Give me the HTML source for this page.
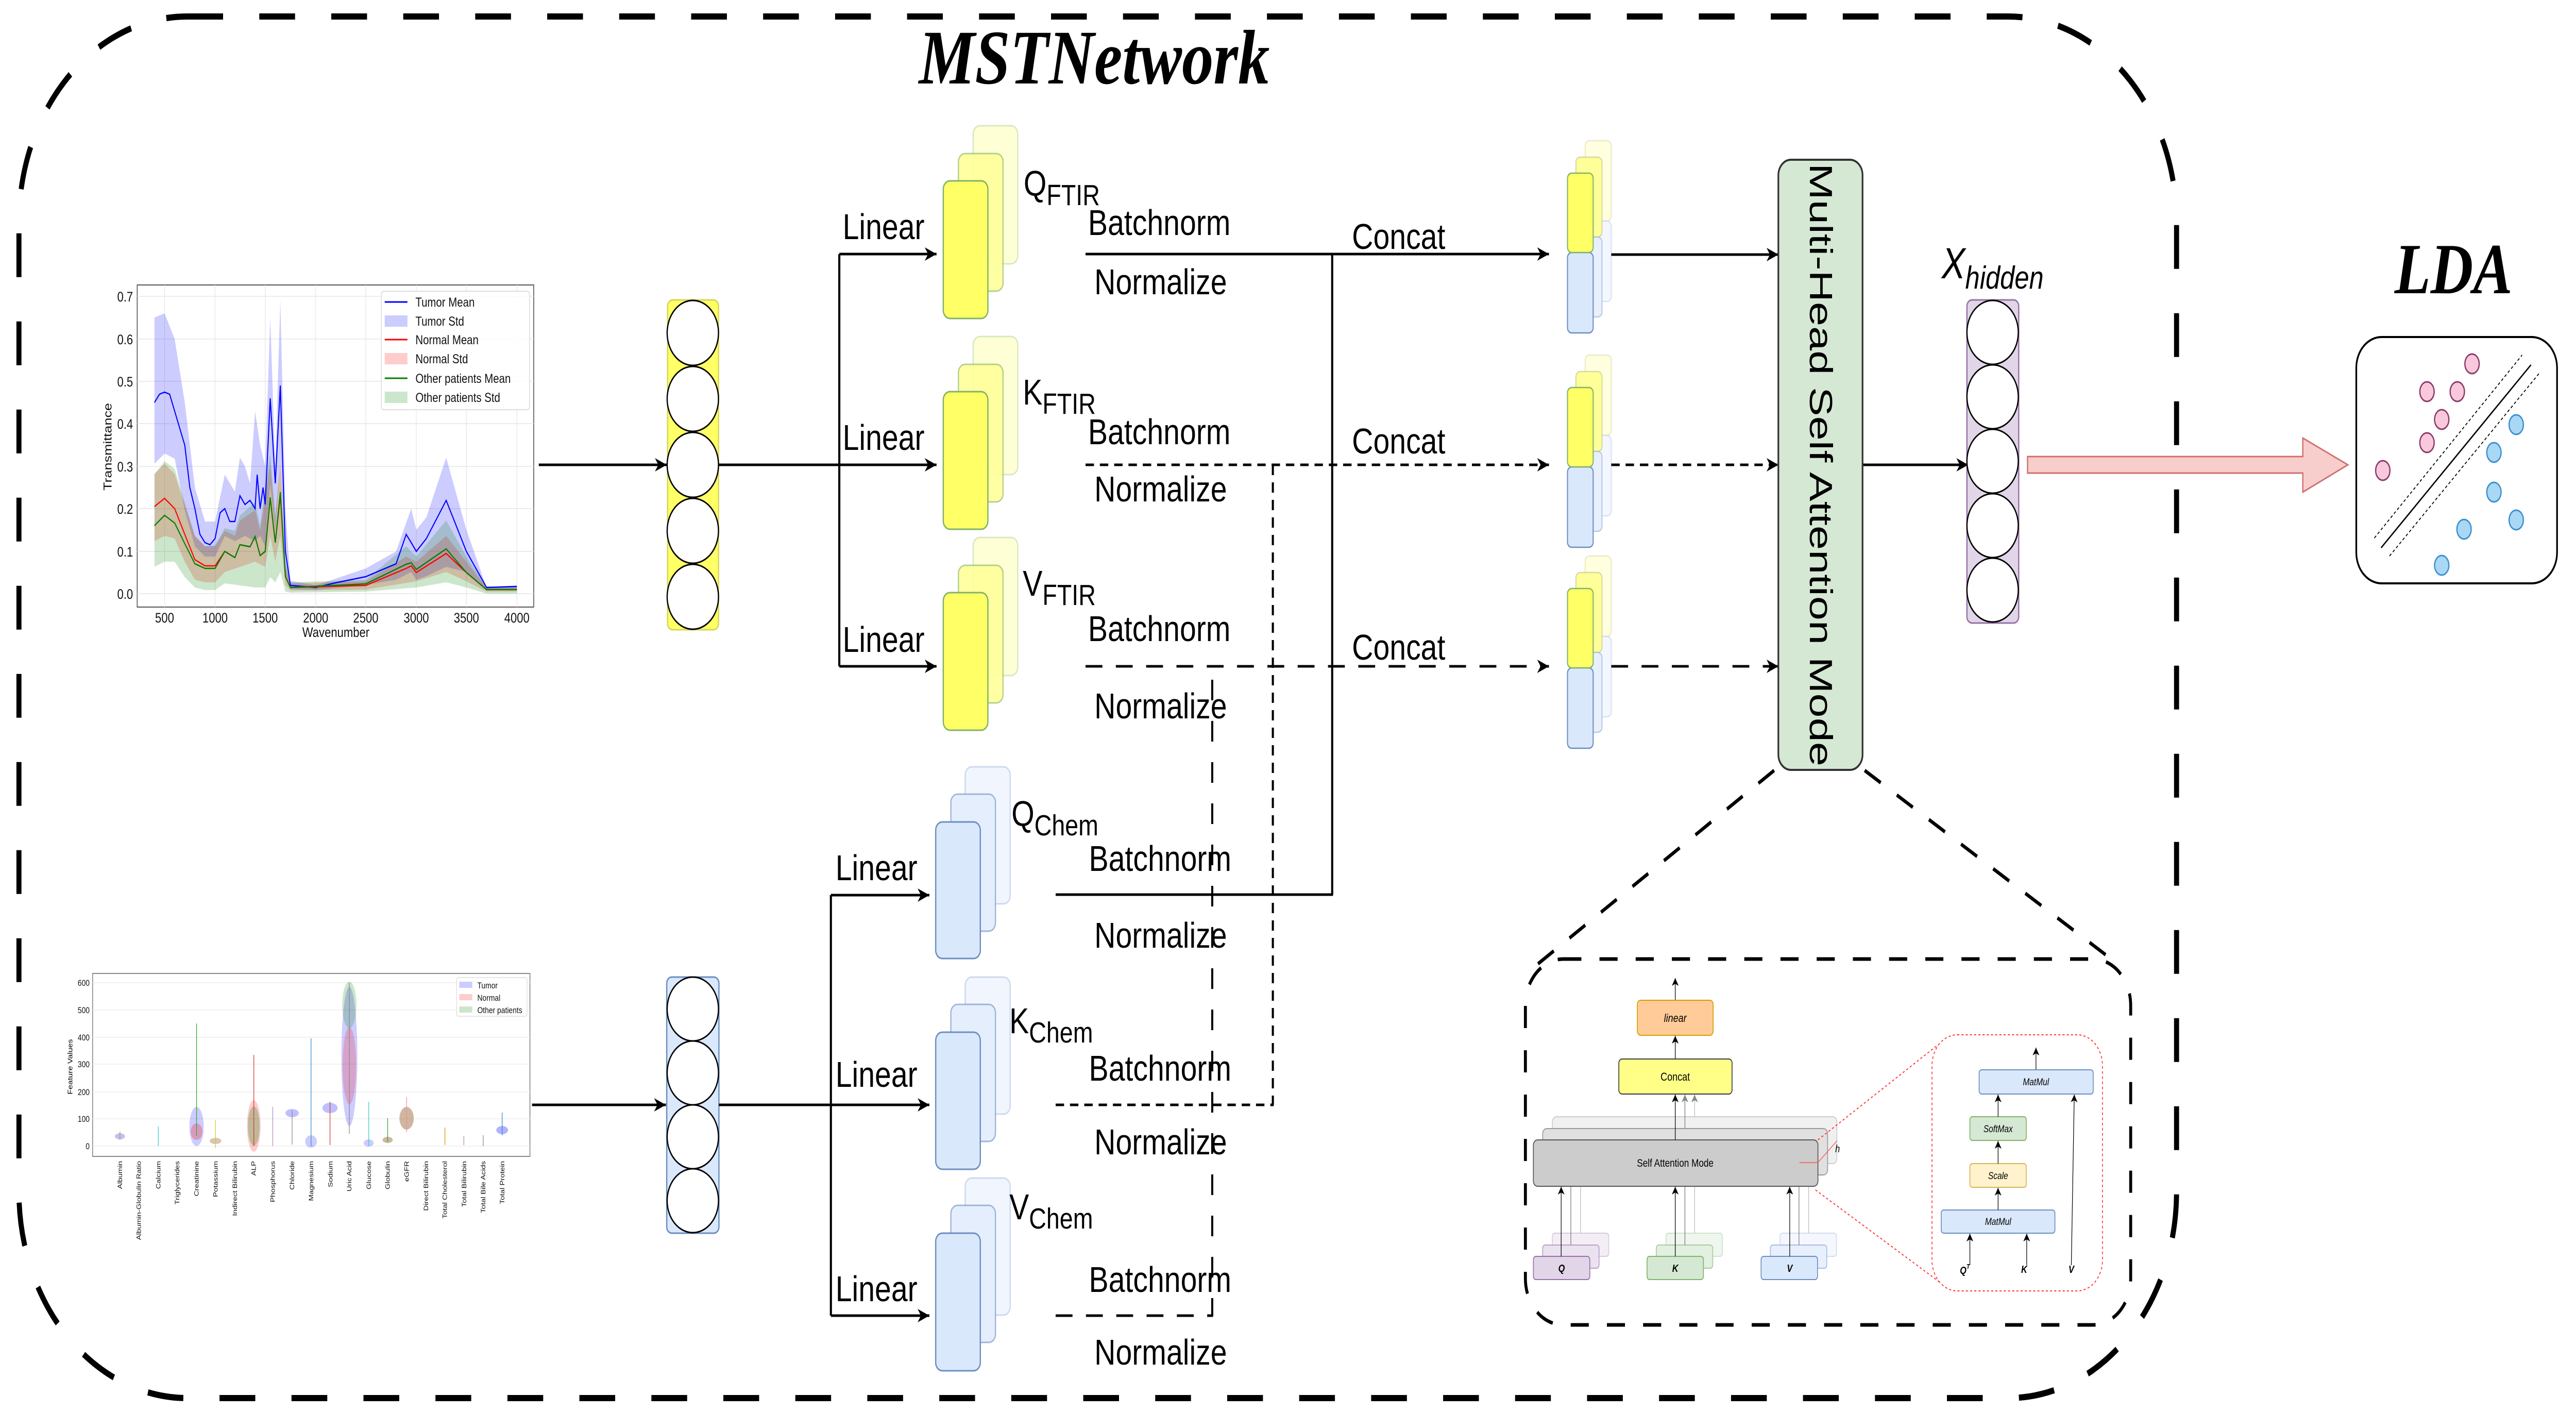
<!DOCTYPE html>
<html><head><meta charset="utf-8"><style>
html,body{margin:0;padding:0;background:#fff;overflow:hidden;width:100vw;height:100vh;}
svg{display:block;width:100vw;height:100vh;}
text{font-family:"Liberation Sans",sans-serif;}
</style></head><body>
<svg viewBox="0 0 6120 2740" preserveAspectRatio="none" xmlns="http://www.w3.org/2000/svg">
<defs>
<marker id="ar" markerUnits="userSpaceOnUse" markerWidth="30" markerHeight="26" refX="28" refY="13" orient="auto"><path d="M0,0 L28,13 L0,26 L8,13 Z" fill="#000"/></marker>
<marker id="as" markerUnits="userSpaceOnUse" markerWidth="16" markerHeight="16" refX="15" refY="8" orient="auto"><path d="M0,0 L15,8 L0,16 L4,8 Z" fill="#000"/></marker>
<marker id="ag" markerUnits="userSpaceOnUse" markerWidth="16" markerHeight="16" refX="15" refY="8" orient="auto"><path d="M0,0 L15,8 L0,16 L4,8 Z" fill="#888"/></marker>
</defs>
<rect width="6120" height="2740" fill="#fff"/>
<rect x="45" y="32" width="5126" height="2681" rx="400" ry="400" fill="none" stroke="#000" stroke-width="12" stroke-dasharray="85,86"/>
<text x="2183" y="162" font-weight="bold" font-style="italic" font-size="150" style="font-family:'Liberation Serif',serif">MSTNetwork</text>

<g>
<rect x="326" y="553" width="942" height="625" fill="#fff" stroke="#555" stroke-width="2"/>
<g stroke="#e6e6e6" stroke-width="1.5">
<line x1="326" y1="1152" x2="1268" y2="1152"/><line x1="326" y1="1070" x2="1268" y2="1070"/><line x1="326" y1="987" x2="1268" y2="987"/><line x1="326" y1="905" x2="1268" y2="905"/><line x1="326" y1="822" x2="1268" y2="822"/><line x1="326" y1="740" x2="1268" y2="740"/><line x1="326" y1="658" x2="1268" y2="658"/><line x1="326" y1="575" x2="1268" y2="575"/>
<line x1="391" y1="553" x2="391" y2="1178"/><line x1="511" y1="553" x2="511" y2="1178"/><line x1="630" y1="553" x2="630" y2="1178"/><line x1="750" y1="553" x2="750" y2="1178"/><line x1="869" y1="553" x2="869" y2="1178"/><line x1="989" y1="553" x2="989" y2="1178"/><line x1="1108" y1="553" x2="1108" y2="1178"/><line x1="1228" y1="553" x2="1228" y2="1178"/>
</g>
<polygon fill="#0000ff" fill-opacity="0.2" points="367,616 391,608 415,658 439,781 463,946 487,1012 511,1012 534,921 558,954 570,888 582,905 594,938 606,798 618,864 630,905 642,616 654,905 666,583 678,987 690,1127 750,1136 869,1103 941,1070 977,987 989,1028 1013,1004 1060,888 1108,1028 1156,1140 1228,1136 1228,1145 1156,1146 1108,1110 1060,1100 1013,1118 989,1125 977,1110 941,1125 869,1135 750,1145 690,1143 678,1120 666,890 654,1030 642,940 630,1060 618,1040 606,1050 582,1040 558,1050 534,1040 511,1080 487,1080 463,1060 439,990 415,890 391,880 367,900"/>
<polygon fill="#ff0000" fill-opacity="0.2" points="367,920 391,900 415,920 439,980 463,1040 487,1060 511,1060 534,1030 558,1040 570,1010 606,990 618,1030 642,900 654,1010 666,890 678,1100 690,1132 869,1128 965,1080 989,1090 1060,1040 1108,1090 1156,1140 1228,1140 1228,1148 1156,1148 1108,1128 1060,1110 989,1128 869,1144 690,1146 678,1135 666,1040 654,1090 642,1040 630,1100 606,1090 534,1110 511,1130 487,1130 463,1125 439,1090 415,1045 391,1040 367,1050"/>
<polygon fill="#008000" fill-opacity="0.2" points="367,920 391,895 415,910 439,975 463,1040 487,1060 511,1058 534,1025 558,1030 570,1000 606,975 618,1020 642,880 654,1000 666,900 678,1090 690,1130 869,1125 965,1060 989,1080 1060,1010 1108,1080 1156,1138 1228,1138 1228,1152 1156,1152 1108,1140 1060,1130 989,1140 869,1148 690,1150 678,1148 666,1110 654,1130 642,1120 630,1140 606,1140 534,1132 511,1145 487,1145 463,1140 439,1120 415,1090 391,1090 367,1100"/>
<polyline fill="none" stroke="#0000ff" stroke-width="2.5" points="367,781 379,765 391,761 403,765 415,798 439,864 451,946 463,987 475,1037 487,1053 499,1057 511,1045 523,995 534,987 546,1012 558,1012 570,962 582,979 594,971 606,987 611,921 618,987 625,946 630,979 642,773 654,938 666,748 678,1070 690,1136 750,1140 797,1131 869,1119 941,1094 965,1037 977,1053 989,1070 1013,1045 1060,971 1108,1070 1156,1140 1228,1138"/>
<polyline fill="none" stroke="#ff0000" stroke-width="2.5" points="367,983 391,967 415,987 439,1037 463,1086 487,1098 511,1098 534,1070 558,1082 570,1057 594,1061 606,1041 618,1078 630,1070 642,967 654,1053 666,962 678,1119 690,1140 869,1136 965,1103 977,1098 989,1111 1060,1074 1108,1111 1156,1144 1228,1144"/>
<polyline fill="none" stroke="#008000" stroke-width="2.5" points="367,1020 391,1000 415,1015 439,1055 463,1094 487,1103 511,1103 534,1070 558,1082 570,1057 594,1061 606,1041 618,1078 630,1070 642,965 654,1053 666,955 678,1119 690,1140 869,1133 965,1095 977,1092 989,1105 1060,1065 1108,1111 1156,1144 1228,1144"/>
<g font-size="27" fill="#111" text-anchor="end">
<text x="316" y="1162">0.0</text><text x="316" y="1080">0.1</text><text x="316" y="997">0.2</text><text x="316" y="915">0.3</text><text x="316" y="832">0.4</text><text x="316" y="750">0.5</text><text x="316" y="668">0.6</text><text x="316" y="585">0.7</text>
</g>
<g font-size="27" fill="#111" text-anchor="middle">
<text x="391" y="1208">500</text><text x="511" y="1208">1000</text><text x="630" y="1208">1500</text><text x="750" y="1208">2000</text><text x="869" y="1208">2500</text><text x="989" y="1208">3000</text><text x="1108" y="1208">3500</text><text x="1228" y="1208">4000</text>
<text x="798" y="1236">Wavenumber</text>
<text transform="translate(265,867) rotate(-90)">Transmittance</text>
</g>
<rect x="906" y="565" width="352" height="230" rx="6" fill="#fff" fill-opacity="0.85" stroke="#ddd" stroke-width="2"/>
<g font-size="25" fill="#111">
<line x1="914" y1="586" x2="968" y2="586" stroke="#0000ff" stroke-width="3"/><text x="987" y="595">Tumor Mean</text>
<rect x="914" y="612" width="54" height="22" fill="#0000ff" fill-opacity="0.2"/><text x="987" y="632">Tumor Std</text>
<line x1="914" y1="659" x2="968" y2="659" stroke="#ff0000" stroke-width="3"/><text x="987" y="668">Normal Mean</text>
<rect x="914" y="685" width="54" height="22" fill="#ff0000" fill-opacity="0.2"/><text x="987" y="705">Normal Std</text>
<line x1="914" y1="734" x2="968" y2="734" stroke="#008000" stroke-width="3"/><text x="987" y="743">Other patients Mean</text>
<rect x="914" y="760" width="54" height="22" fill="#008000" fill-opacity="0.2"/><text x="987" y="780">Other patients Std</text>
</g>
</g>

<g>
<rect x="220" y="1889" width="1039" height="355" fill="#fff" stroke="#888" stroke-width="2"/>
<g stroke="#eee" stroke-width="1.5"><line x1="220" y1="1907" x2="1259" y2="1907"/><line x1="220" y1="1960" x2="1259" y2="1960"/><line x1="220" y1="2013" x2="1259" y2="2013"/><line x1="220" y1="2065" x2="1259" y2="2065"/><line x1="220" y1="2119" x2="1259" y2="2119"/><line x1="220" y1="2171" x2="1259" y2="2171"/><line x1="220" y1="2224" x2="1259" y2="2224"/></g>
<g font-size="17" fill="#111" text-anchor="end">
<text x="213" y="1913">600</text><text x="213" y="1966">500</text><text x="213" y="2019">400</text><text x="213" y="2071">300</text><text x="213" y="2125">200</text><text x="213" y="2177">100</text><text x="213" y="2230">0</text>
</g>
<text transform="translate(172,2070) rotate(-90)" font-size="16" text-anchor="middle">Feature Values</text>
<ellipse cx="830" cy="2050" rx="19" ry="135" fill="#0000ff" fill-opacity="0.2"/>
<ellipse cx="830" cy="2068" rx="16" ry="75" fill="#ff0000" fill-opacity="0.2"/>
<ellipse cx="830" cy="1950" rx="17" ry="45" fill="#008000" fill-opacity="0.2"/>
<line x1="830" y1="1907" x2="830" y2="2200" stroke="#888" stroke-width="1.5"/>
<ellipse cx="467" cy="2186" rx="17" ry="38" fill="#0000ff" fill-opacity="0.2"/><ellipse cx="467" cy="2196" rx="14" ry="16" fill="#ff0000" fill-opacity="0.25"/>
<line x1="467" y1="1986" x2="467" y2="2204" stroke="#2a2" stroke-width="1.5"/>
<ellipse cx="603" cy="2185" rx="16" ry="50" fill="#ff0000" fill-opacity="0.2"/><ellipse cx="603" cy="2185" rx="14" ry="38" fill="#008000" fill-opacity="0.25"/>
<line x1="603" y1="2047" x2="603" y2="2224" stroke="#d33" stroke-width="1.5"/>
<ellipse cx="966" cy="2170" rx="17" ry="22" fill="#a07040" fill-opacity="0.5"/><line x1="966" y1="2129" x2="966" y2="2197" stroke="#e8a" stroke-width="1.5"/>
<ellipse cx="784" cy="2150" rx="18" ry="10" fill="#0000ff" fill-opacity="0.25"/><line x1="784" y1="2138" x2="784" y2="2222" stroke="#d33" stroke-width="1.5"/>
<ellipse cx="694" cy="2160" rx="16" ry="8" fill="#0000ff" fill-opacity="0.25"/><line x1="694" y1="2155" x2="694" y2="2221" stroke="#888" stroke-width="1.5"/>
<ellipse cx="285" cy="2205" rx="12" ry="6" fill="#0000ff" fill-opacity="0.25"/>
<ellipse cx="1193" cy="2193" rx="14" ry="8" fill="#0000ff" fill-opacity="0.3"/><line x1="1193" y1="2159" x2="1193" y2="2203" stroke="#38c" stroke-width="1.5"/>
<ellipse cx="739" cy="2215" rx="14" ry="12" fill="#0000ff" fill-opacity="0.2"/><line x1="739" y1="2015" x2="739" y2="2224" stroke="#38c" stroke-width="1.5"/>
<ellipse cx="876" cy="2218" rx="12" ry="7" fill="#0000ff" fill-opacity="0.2"/><line x1="876" y1="2138" x2="876" y2="2224" stroke="#3cc" stroke-width="1.5"/>
<ellipse cx="921" cy="2212" rx="12" ry="6" fill="#a07040" fill-opacity="0.5"/><line x1="921" y1="2170" x2="921" y2="2216" stroke="#2a2" stroke-width="1.5"/>
<ellipse cx="512" cy="2214" rx="14" ry="6" fill="#a07040" fill-opacity="0.4"/><line x1="512" y1="2173" x2="512" y2="2228" stroke="#cc3" stroke-width="1.5"/>
<line x1="376" y1="2186" x2="376" y2="2224" stroke="#3cc" stroke-width="1.5"/><line x1="648" y1="2148" x2="648" y2="2224" stroke="#b8b" stroke-width="1.5"/>
<line x1="285" y1="2196" x2="285" y2="2212" stroke="#e80" stroke-width="1.5"/><line x1="1102" y1="2204" x2="1102" y2="2222" stroke="#b8b" stroke-width="1.5"/><line x1="1057" y1="2188" x2="1057" y2="2222" stroke="#e80" stroke-width="1.5"/><line x1="1148" y1="2203" x2="1148" y2="2224" stroke="#888" stroke-width="1.5"/>
<g font-size="15" fill="#111" text-anchor="end">
<text transform="translate(290,2253) rotate(-90)">Albumin</text>
<text transform="translate(335,2253) rotate(-90)">Albumin-Globulin Ratio</text>
<text transform="translate(381,2253) rotate(-90)">Calcium</text>
<text transform="translate(426,2253) rotate(-90)">Triglycerides</text>
<text transform="translate(472,2253) rotate(-90)">Creatinine</text>
<text transform="translate(517,2253) rotate(-90)">Potassium</text>
<text transform="translate(563,2253) rotate(-90)">Indirect Bilirubin</text>
<text transform="translate(608,2253) rotate(-90)">ALP</text>
<text transform="translate(653,2253) rotate(-90)">Phosphorus</text>
<text transform="translate(699,2253) rotate(-90)">Chloride</text>
<text transform="translate(744,2253) rotate(-90)">Magnesium</text>
<text transform="translate(790,2253) rotate(-90)">Sodium</text>
<text transform="translate(835,2253) rotate(-90)">Uric Acid</text>
<text transform="translate(881,2253) rotate(-90)">Glucose</text>
<text transform="translate(926,2253) rotate(-90)">Globulin</text>
<text transform="translate(971,2253) rotate(-90)">eGFR</text>
<text transform="translate(1017,2253) rotate(-90)">Direct Bilirubin</text>
<text transform="translate(1062,2253) rotate(-90)">Total Cholesterol</text>
<text transform="translate(1108,2253) rotate(-90)">Total Bilirubin</text>
<text transform="translate(1153,2253) rotate(-90)">Total Bile Acids</text>
<text transform="translate(1198,2253) rotate(-90)">Total Protein</text>
</g>
<rect x="1085" y="1897" width="167" height="75" rx="4" fill="#fff" stroke="#ddd" stroke-width="1.5"/>
<g font-size="17" fill="#111">
<rect x="1091" y="1905" width="31" height="12" fill="#0000ff" fill-opacity="0.2"/><text x="1134" y="1918">Tumor</text>
<rect x="1091" y="1929" width="31" height="12" fill="#ff0000" fill-opacity="0.2"/><text x="1134" y="1942">Normal</text>
<rect x="1091" y="1953" width="31" height="12" fill="#008000" fill-opacity="0.2"/><text x="1134" y="1966">Other patients</text>
</g>
</g>

<line x1="1280" y1="902" x2="1584" y2="902" stroke="#000" stroke-width="5" marker-end="url(#ar)"/>
<line x1="1264" y1="2144" x2="1582" y2="2144" stroke="#000" stroke-width="5" marker-end="url(#ar)"/>

<rect x="1586" y="582" width="121" height="640" rx="12" fill="#ffff66" stroke="#d6d65a" stroke-width="3"/>
<g fill="#fff" stroke="#000" stroke-width="3">
<ellipse cx="1646" cy="646" rx="61" ry="63"/><ellipse cx="1646" cy="774" rx="61" ry="63"/><ellipse cx="1646" cy="902" rx="61" ry="63"/><ellipse cx="1646" cy="1030" rx="61" ry="63"/><ellipse cx="1646" cy="1158" rx="61" ry="63"/>
</g>
<rect x="1584" y="1896" width="124" height="497" rx="12" fill="#dae8fc" stroke="#6c8ebf" stroke-width="3"/>
<g fill="#fff" stroke="#000" stroke-width="3">
<ellipse cx="1646" cy="1958" rx="61" ry="62"/><ellipse cx="1646" cy="2082" rx="61" ry="62"/><ellipse cx="1646" cy="2206" rx="61" ry="62"/><ellipse cx="1646" cy="2330" rx="61" ry="62"/>
</g>

<g stroke="#000" stroke-width="5" fill="none">
<line x1="1707" y1="902" x2="1994" y2="902"/>
<line x1="1994" y1="493" x2="1994" y2="1293"/>
<line x1="1994" y1="493" x2="2225" y2="493" marker-end="url(#ar)"/>
<line x1="1994" y1="902" x2="2225" y2="902" marker-end="url(#ar)"/>
<line x1="1994" y1="1293" x2="2225" y2="1293" marker-end="url(#ar)"/>
<line x1="1708" y1="2144" x2="1974" y2="2144"/>
<line x1="1974" y1="1737" x2="1974" y2="2553"/>
<line x1="1974" y1="1737" x2="2208" y2="1737" marker-end="url(#ar)"/>
<line x1="1974" y1="2144" x2="2208" y2="2144" marker-end="url(#ar)"/>
<line x1="1974" y1="2553" x2="2208" y2="2553" marker-end="url(#ar)"/>
</g>
<g font-size="70" fill="#000">
<text x="2002" y="464">Linear</text><text x="2002" y="873">Linear</text><text x="2002" y="1265">Linear</text>
<text x="1985" y="1708">Linear</text><text x="1985" y="2109">Linear</text><text x="1985" y="2525">Linear</text>
</g>

<g stroke="#82b366" stroke-width="3">
<rect x="2312" y="244" width="106" height="268" rx="16" fill="#ffffcc" fill-opacity="0.8" stroke-opacity="0.3"/>
<rect x="2277" y="298" width="106" height="267" rx="16" fill="#ffff99" fill-opacity="0.9" stroke-opacity="0.6"/>
<rect x="2241" y="351" width="106" height="267" rx="16" fill="#ffff66"/>
<rect x="2312" y="653" width="106" height="268" rx="16" fill="#ffffcc" fill-opacity="0.8" stroke-opacity="0.3"/>
<rect x="2277" y="707" width="106" height="267" rx="16" fill="#ffff99" fill-opacity="0.9" stroke-opacity="0.6"/>
<rect x="2241" y="760" width="106" height="267" rx="16" fill="#ffff66"/>
<rect x="2312" y="1043" width="106" height="268" rx="16" fill="#ffffcc" fill-opacity="0.8" stroke-opacity="0.3"/>
<rect x="2277" y="1097" width="106" height="267" rx="16" fill="#ffff99" fill-opacity="0.9" stroke-opacity="0.6"/>
<rect x="2241" y="1150" width="106" height="267" rx="16" fill="#ffff66"/>
</g>
<g stroke="#6c8ebf" stroke-width="3">
<rect x="2293" y="1488" width="107" height="266" rx="16" fill="#f1f6fe" stroke-opacity="0.3"/>
<rect x="2259" y="1541" width="106" height="266" rx="16" fill="#e4eefd" stroke-opacity="0.6"/>
<rect x="2223" y="1595" width="106" height="265" rx="16" fill="#dae8fc"/>
<rect x="2293" y="1896" width="107" height="266" rx="16" fill="#f1f6fe" stroke-opacity="0.3"/>
<rect x="2259" y="1949" width="106" height="266" rx="16" fill="#e4eefd" stroke-opacity="0.6"/>
<rect x="2223" y="2003" width="106" height="266" rx="16" fill="#dae8fc"/>
<rect x="2293" y="2286" width="107" height="266" rx="16" fill="#f1f6fe" stroke-opacity="0.3"/>
<rect x="2259" y="2339" width="106" height="266" rx="16" fill="#e4eefd" stroke-opacity="0.6"/>
<rect x="2223" y="2393" width="106" height="267" rx="16" fill="#dae8fc"/>
</g>

<g fill="#000">
<text x="2432" y="380" font-size="70">Q<tspan font-size="57" dy="18">FTIR</tspan></text>
<text x="2430" y="785" font-size="70">K<tspan font-size="57" dy="18">FTIR</tspan></text>
<text x="2430" y="1156" font-size="70">V<tspan font-size="57" dy="18">FTIR</tspan></text>
<text x="2403" y="1603" font-size="70">Q<tspan font-size="57" dy="18">Chem</tspan></text>
<text x="2398" y="2005" font-size="70">K<tspan font-size="57" dy="18">Chem</tspan></text>
<text x="2398" y="2366" font-size="70">V<tspan font-size="57" dy="18">Chem</tspan></text>
</g>
<g font-size="70" fill="#000">
<text x="2585" y="456">Batchnorm</text><text x="2600" y="571">Normalize</text>
<text x="2585" y="862">Batchnorm</text><text x="2600" y="973">Normalize</text>
<text x="2585" y="1244">Batchnorm</text><text x="2600" y="1394">Normalize</text>
<text x="2587" y="1690">Batchnorm</text><text x="2600" y="1839">Normalize</text>
<text x="2587" y="2097">Batchnorm</text><text x="2600" y="2240">Normalize</text>
<text x="2587" y="2507">Batchnorm</text><text x="2600" y="2648">Normalize</text>
<text x="3212" y="483">Concat</text><text x="3212" y="880">Concat</text><text x="3212" y="1280">Concat</text>
</g>

<g stroke="#000" stroke-width="5" fill="none">
<line x1="2579" y1="493" x2="3680" y2="493" marker-end="url(#ar)"/>
<line x1="2579" y1="902" x2="3680" y2="902" stroke-dasharray="20,14" marker-end="url(#ar)"/>
<line x1="2579" y1="1293" x2="3680" y2="1293" stroke-dasharray="40,32" marker-end="url(#ar)"/>
<line x1="3165" y1="493" x2="3165" y2="1736"/>
<line x1="2508" y1="1736" x2="3167" y2="1736"/>
<line x1="3024" y1="902" x2="3024" y2="2144" stroke-dasharray="20,14"/>
<line x1="2508" y1="2144" x2="3026" y2="2144" stroke-dasharray="20,14"/>
<line x1="2880" y1="1319" x2="2880" y2="2553" stroke-dasharray="40,40"/>
<line x1="2508" y1="2553" x2="2882" y2="2553" stroke-dasharray="40,32"/>
</g>

<g stroke-width="2.5">
<g>
<rect x="3766" y="273" width="62" height="156" rx="10" fill="#ffffcc" fill-opacity="0.6" stroke="#d6d6a0" stroke-opacity="0.5"/>
<rect x="3766" y="429" width="62" height="156" rx="10" fill="#f4f8fe" stroke="#b8c8e8" stroke-opacity="0.5"/>
<rect x="3744" y="305" width="62" height="155" rx="10" fill="#ffff99" stroke="#c8c890" stroke-opacity="0.7"/>
<rect x="3744" y="460" width="62" height="155" rx="10" fill="#e8f0fd" stroke="#9fb5dd" stroke-opacity="0.7"/>
<rect x="3724" y="490" width="61" height="156" rx="10" fill="#dae8fc" stroke="#6c8ebf"/>
<rect x="3724" y="336" width="61" height="154" rx="10" fill="#ffff66" stroke="#82b366"/>
</g>
<g transform="translate(0,416)">
<rect x="3766" y="273" width="62" height="156" rx="10" fill="#ffffcc" fill-opacity="0.6" stroke="#d6d6a0" stroke-opacity="0.5"/>
<rect x="3766" y="429" width="62" height="156" rx="10" fill="#f4f8fe" stroke="#b8c8e8" stroke-opacity="0.5"/>
<rect x="3744" y="305" width="62" height="155" rx="10" fill="#ffff99" stroke="#c8c890" stroke-opacity="0.7"/>
<rect x="3744" y="460" width="62" height="155" rx="10" fill="#e8f0fd" stroke="#9fb5dd" stroke-opacity="0.7"/>
<rect x="3724" y="490" width="61" height="156" rx="10" fill="#dae8fc" stroke="#6c8ebf"/>
<rect x="3724" y="336" width="61" height="154" rx="10" fill="#ffff66" stroke="#82b366"/>
</g>
<g transform="translate(0,806)">
<rect x="3766" y="273" width="62" height="156" rx="10" fill="#ffffcc" fill-opacity="0.6" stroke="#d6d6a0" stroke-opacity="0.5"/>
<rect x="3766" y="429" width="62" height="156" rx="10" fill="#f4f8fe" stroke="#b8c8e8" stroke-opacity="0.5"/>
<rect x="3744" y="305" width="62" height="155" rx="10" fill="#ffff99" stroke="#c8c890" stroke-opacity="0.7"/>
<rect x="3744" y="460" width="62" height="155" rx="10" fill="#e8f0fd" stroke="#9fb5dd" stroke-opacity="0.7"/>
<rect x="3724" y="490" width="61" height="156" rx="10" fill="#dae8fc" stroke="#6c8ebf"/>
<rect x="3724" y="336" width="61" height="154" rx="10" fill="#ffff66" stroke="#82b366"/>
</g>
</g>
<g stroke="#000" stroke-width="5" fill="none">
<line x1="3828" y1="494" x2="4225" y2="494" marker-end="url(#ar)"/>
<line x1="3828" y1="902" x2="4225" y2="902" stroke-dasharray="20,14" marker-end="url(#ar)"/>
<line x1="3828" y1="1293" x2="4225" y2="1293" stroke-dasharray="40,32" marker-end="url(#ar)"/>
<line x1="4425" y1="902" x2="4676" y2="902" marker-end="url(#ar)"/>
</g>

<rect x="4225" y="310" width="200" height="1184" rx="30" fill="#d5e8d4" stroke="#333" stroke-width="4"/>
<text transform="translate(4300,902) rotate(90)" font-size="76" text-anchor="middle" textLength="1170" lengthAdjust="spacingAndGlyphs">Multi-Head Self Attention Mode</text>

<text x="4613" y="540" font-size="84" font-style="italic">X<tspan font-size="62" dy="20">hidden</tspan></text>
<rect x="4673" y="582" width="123" height="627" rx="12" fill="#e1d5e7" stroke="#9673a6" stroke-width="3"/>
<g fill="#fff" stroke="#000" stroke-width="3">
<ellipse cx="4734" cy="645" rx="61" ry="62"/><ellipse cx="4734" cy="770" rx="61" ry="62"/><ellipse cx="4734" cy="895" rx="61" ry="62"/><ellipse cx="4734" cy="1020" rx="61" ry="62"/><ellipse cx="4734" cy="1145" rx="61" ry="62"/>
</g>

<path d="M4817,886 L5471,886 L5471,850 L5578,902 L5471,955 L5471,918 L4817,918 Z" fill="#f8cecc" stroke="#d07070" stroke-width="3"/>

<text x="5689" y="569" style="font-family:'Liberation Serif',serif" font-weight="bold" font-style="italic" font-size="140">LDA</text>
<rect x="5598" y="654" width="477" height="478" rx="60" fill="#fff" stroke="#000" stroke-width="4"/>
<line x1="5657" y1="1063" x2="6013" y2="708" stroke="#000" stroke-width="3"/>
<line x1="5641" y1="1044" x2="5992" y2="689" stroke="#000" stroke-width="2" stroke-dasharray="6,5"/>
<line x1="5677" y1="1079" x2="6032" y2="725" stroke="#000" stroke-width="2" stroke-dasharray="6,5"/>
<g fill="#f9c8dc" stroke="#8a3a6a" stroke-width="3">
<ellipse cx="5873" cy="706" rx="17" ry="19"/><ellipse cx="5766" cy="760" rx="17" ry="19"/><ellipse cx="5838" cy="760" rx="17" ry="19"/><ellipse cx="5801" cy="814" rx="17" ry="19"/><ellipse cx="5766" cy="859" rx="17" ry="19"/><ellipse cx="5661" cy="913" rx="17" ry="19"/>
</g>
<g fill="#a8d8f4" stroke="#3c8fd0" stroke-width="3">
<ellipse cx="5978" cy="824" rx="17" ry="19"/><ellipse cx="5925" cy="878" rx="17" ry="19"/><ellipse cx="5925" cy="955" rx="17" ry="19"/><ellipse cx="5978" cy="1009" rx="17" ry="19"/><ellipse cx="5854" cy="1027" rx="17" ry="19"/><ellipse cx="5801" cy="1097" rx="17" ry="19"/>
</g>

<g stroke="#000" stroke-width="7" stroke-dasharray="45,45">
<line x1="4215" y1="1495" x2="3650" y2="1873"/>
<line x1="4430" y1="1495" x2="5035" y2="1873"/>
</g>
<rect x="3624" y="1861" width="1438" height="710" rx="90" fill="#fff" stroke="#000" stroke-width="7" stroke-dasharray="43,43"/>

<g>
<line x1="3980" y1="1941" x2="3980" y2="1898" stroke="#000" stroke-width="1.5" marker-end="url(#as)"/>
<rect x="3890" y="1941" width="180" height="68" rx="8" fill="#ffcc99" stroke="#d79b00" stroke-width="2"/>
<text x="3980" y="1983" font-size="22" font-style="italic" text-anchor="middle">linear</text>
<line x1="3980" y1="2055" x2="3980" y2="2010" stroke="#000" stroke-width="1.5" marker-end="url(#as)"/>
<rect x="3846" y="2055" width="269" height="68" rx="8" fill="#ffff88" stroke="#36393d" stroke-width="2"/>
<text x="3980" y="2097" font-size="22" text-anchor="middle">Concat</text>
<rect x="3688" y="2167" width="676" height="91" rx="10" fill="#f0f0f0" stroke="#ccc" stroke-width="2"/>
<rect x="3665" y="2190" width="677" height="90" rx="10" fill="#e0e0e0" stroke="#999" stroke-width="2"/>
<rect x="3643" y="2212" width="676" height="90" rx="10" fill="#cccccc" stroke="#555" stroke-width="2"/>
<text x="3980" y="2264" font-size="21" text-anchor="middle">Self Attention Mode</text>
<line x1="3980" y1="2212" x2="3980" y2="2124" stroke="#000" stroke-width="1.5" marker-end="url(#as)"/>
<line x1="4003" y1="2190" x2="4003" y2="2124" stroke="#777" stroke-width="1.5" marker-end="url(#ag)"/>
<line x1="4026" y1="2167" x2="4026" y2="2124" stroke="#bbb" stroke-width="1.5" marker-end="url(#ag)"/>
<polyline points="4275,2256 4319,2256 4364,2214" fill="none" stroke="#f55" stroke-width="1.5"/>
<text x="4360" y="2236" font-size="20" font-style="italic">h</text>
<g stroke-width="2">
<rect x="3688" y="2393" width="134" height="45" rx="6" fill="#f3eef6" stroke="#d8c8e0"/>
<rect x="3665" y="2416" width="134" height="45" rx="6" fill="#eae2ef" stroke="#b8a0c8"/>
<rect x="3643" y="2438" width="134" height="45" rx="6" fill="#e1d5e7" stroke="#9673a6"/>
<rect x="3958" y="2393" width="134" height="45" rx="6" fill="#eef6ee" stroke="#cde3c8"/>
<rect x="3935" y="2416" width="134" height="45" rx="6" fill="#e2f0e1" stroke="#a8cc9c"/>
<rect x="3913" y="2438" width="134" height="45" rx="6" fill="#d5e8d4" stroke="#82b366"/>
<rect x="4229" y="2393" width="134" height="45" rx="6" fill="#f4f8fe" stroke="#d0dcf0"/>
<rect x="4206" y="2416" width="134" height="45" rx="6" fill="#e8f0fd" stroke="#a8bde0"/>
<rect x="4184" y="2438" width="134" height="45" rx="6" fill="#dae8fc" stroke="#6c8ebf"/>
</g>
<g font-size="20" font-style="italic" text-anchor="middle" font-weight="bold">
<text x="3710" y="2468">Q</text><text x="3980" y="2468">K</text><text x="4252" y="2468">V</text>
</g>
<g stroke-width="1.5">
<line x1="3709" y1="2438" x2="3709" y2="2303" stroke="#000" marker-end="url(#as)"/>
<line x1="3732" y1="2416" x2="3732" y2="2303" stroke="#777"/>
<line x1="3755" y1="2393" x2="3755" y2="2303" stroke="#bbb"/>
<line x1="3980" y1="2438" x2="3980" y2="2303" stroke="#000" marker-end="url(#as)"/>
<line x1="4003" y1="2416" x2="4003" y2="2303" stroke="#777"/>
<line x1="4026" y1="2393" x2="4026" y2="2303" stroke="#bbb"/>
<line x1="4252" y1="2438" x2="4252" y2="2303" stroke="#000" marker-end="url(#as)"/>
<line x1="4274" y1="2416" x2="4274" y2="2303" stroke="#777"/>
<line x1="4297" y1="2393" x2="4297" y2="2303" stroke="#bbb"/>
</g>
<g stroke="#f33" stroke-width="2" stroke-dasharray="5,5" fill="none">
<line x1="4319" y1="2212" x2="4605" y2="2027"/>
<line x1="4313" y1="2309" x2="4610" y2="2489"/>
<rect x="4590" y="2008" width="405" height="497" rx="60"/>
</g>
<line x1="4837" y1="2076" x2="4837" y2="2033" stroke="#000" stroke-width="1.5" marker-end="url(#as)"/>
<rect x="4702" y="2076" width="271" height="47" rx="6" fill="#dae8fc" stroke="#6c8ebf" stroke-width="2"/>
<text x="4837" y="2106" font-size="19" font-style="italic" text-anchor="middle">MatMul</text>
<rect x="4680" y="2167" width="134" height="46" rx="6" fill="#d5e8d4" stroke="#82b366" stroke-width="2"/>
<text x="4747" y="2197" font-size="19" font-style="italic" text-anchor="middle">SoftMax</text>
<rect x="4680" y="2258" width="134" height="46" rx="6" fill="#fff2cc" stroke="#d6b656" stroke-width="2"/>
<text x="4747" y="2288" font-size="19" font-style="italic" text-anchor="middle">Scale</text>
<rect x="4612" y="2348" width="270" height="45" rx="6" fill="#dae8fc" stroke="#6c8ebf" stroke-width="2"/>
<text x="4747" y="2377" font-size="19" font-style="italic" text-anchor="middle">MatMul</text>
<g stroke="#000" stroke-width="1.5">
<line x1="4747" y1="2167" x2="4747" y2="2124" marker-end="url(#as)"/>
<line x1="4747" y1="2258" x2="4747" y2="2214" marker-end="url(#as)"/>
<line x1="4747" y1="2348" x2="4747" y2="2305" marker-end="url(#as)"/>
<line x1="4921" y1="2455" x2="4928" y2="2124" marker-end="url(#as)"/>
<line x1="4680" y1="2455" x2="4680" y2="2394" marker-end="url(#as)"/>
<line x1="4815" y1="2455" x2="4815" y2="2394" marker-end="url(#as)"/>
</g>
<g font-size="20" font-style="italic" text-anchor="middle" font-weight="bold">
<text x="4668" y="2472">Q<tspan font-size="13" dy="-10">T</tspan></text><text x="4809" y="2470">K</text><text x="4921" y="2470">V</text>
</g>
</g>
</svg>
</body></html>
